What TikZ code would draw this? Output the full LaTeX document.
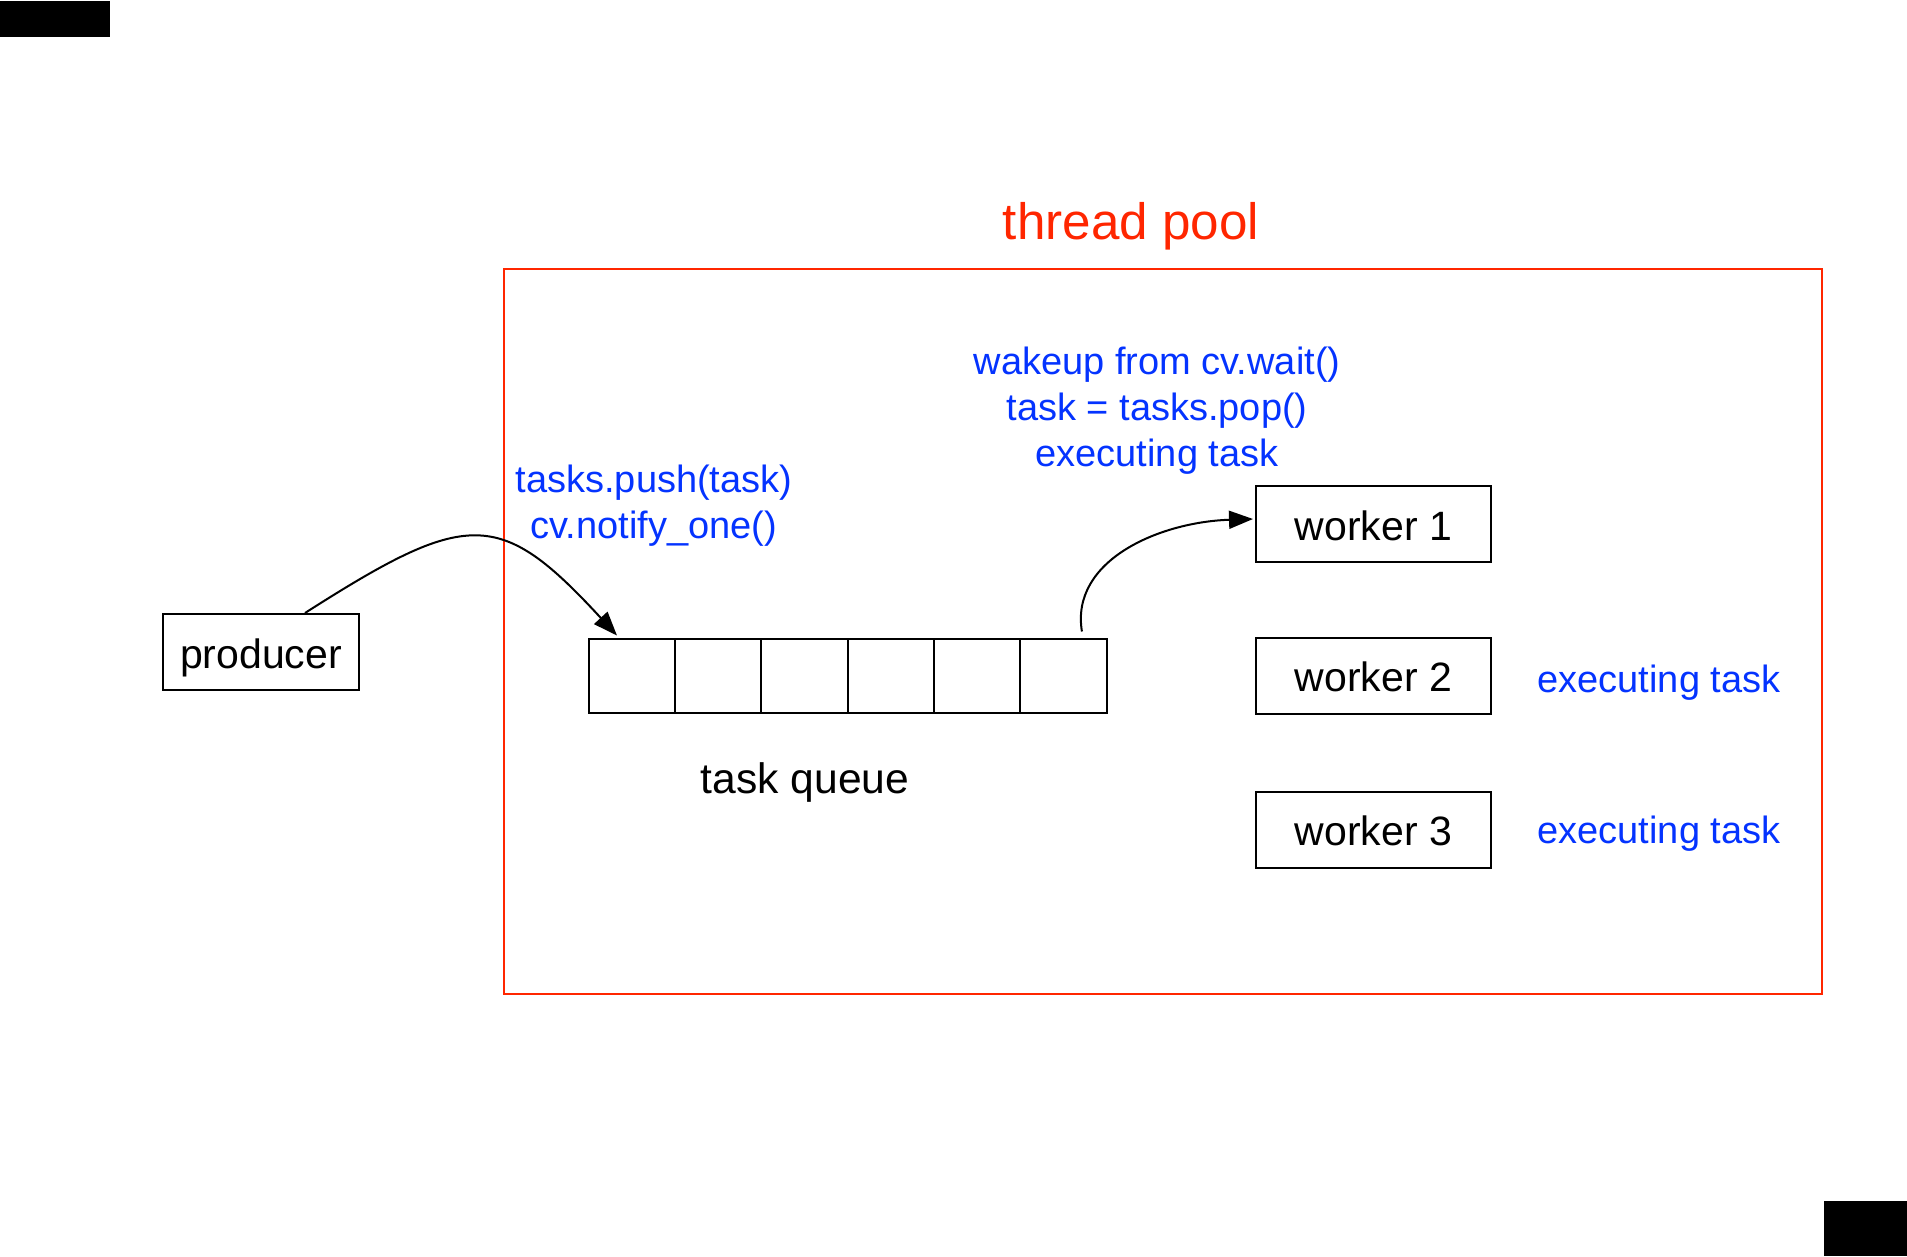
\documentclass[tikz,border=0pt]{standalone}
\usepackage{fontspec}
\setmainfont{Liberation Sans}
\usetikzlibrary{arrows.meta}
\definecolor{kblue}{RGB}{4,51,255}
\definecolor{kred}{RGB}{255,38,0}
\begin{document}
\begin{tikzpicture}[x=0.5pt,y=-0.5pt,
  box/.style={draw, line width=1pt, inner sep=0pt, minimum height=38pt, text height=16pt, text depth=0pt, font=\fontsize{20.5}{24}\selectfont},
  cell/.style={draw, line width=1pt, inner sep=0pt, minimum height=37.1pt, minimum width=43.17pt},
  note/.style={text=kblue, align=center, inner sep=0pt, font=\fontsize{19}{23}\selectfont},
  arr/.style={line width=1pt, -{Triangle[length=12pt,width=9pt]}}]
\useasboundingbox (0,0) rectangle (1907,1257);
% corner marks
\fill (0,1) rectangle (110,37);
\fill (1824,1201) rectangle (1907,1256);
% thread pool frame
\draw[kred, line width=1pt] (503.5,269) rectangle (1822,994);
\node[text=kred, inner sep=0pt, font=\fontsize{25.6}{30}\selectfont] (tp) at (1131,226) {thread pool};
% producer
\node[box, minimum width=98pt] (prod) at (261,652) {producer};
% task queue cells
\foreach \i in {1,...,6} {
  \node[cell] (q\i) at ({588.6+86.35*(\i-0.5)},675.6) {};
}
\node[inner sep=0pt, font=\fontsize{21.3}{25}\selectfont] (ql) at (805,782) {task queue};
% workers
\node[box, minimum width=117.5pt] (w1) at (1373.5,524) {worker 1};
\node[box, minimum width=117.5pt] (w2) at (1373.5,675.6) {worker 2};
\node[box, minimum width=117.5pt] (w3) at (1373.5,829.5) {worker 3};
% notes
\node[note] (pushnote) at (654,506) {tasks.push(task)\\cv.notify\_one()};
\node[note] (popnote) at (1157,411) {wakeup from cv.wait()\\task = tasks.pop()\\executing task};
\node[note] (ex2) at (1659,683) {executing task};
\node[note] (ex3) at (1659,834) {executing task};
% connectors
\coordinate (a1s) at ([xshift=22pt]prod.north);
\coordinate (a1e) at ([xshift=-7.4pt,yshift=1pt]q1.north);
\draw[arr] (a1s) .. controls (467.8,509.1) and (499.6,508) .. (a1e);
\coordinate (a2s) at ([xshift=9.2pt,yshift=3pt]q6.north);
\coordinate (a2e) at ([xshift=-1pt,yshift=2.5pt]w1.west);
\draw[arr] (a2s) .. controls (1070,560) and (1160,522) .. (a2e);
\end{tikzpicture}
\end{document}
